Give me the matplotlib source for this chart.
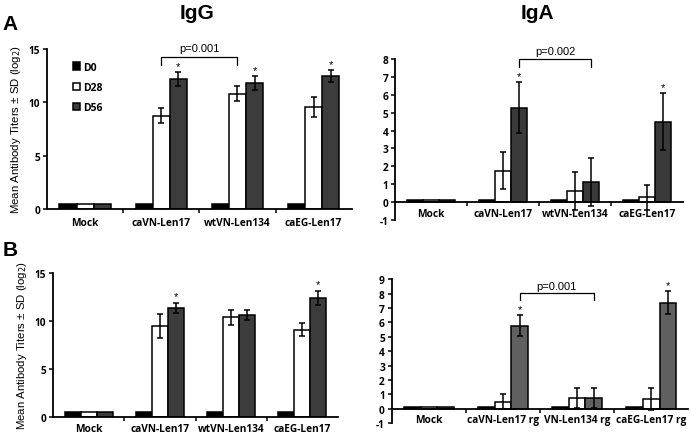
import matplotlib.pyplot as plt
import numpy as np

# categories
groups = ['Mock', 'caVN-Len17', 'wtVN-Len134', 'caEG-Len17']
groups_rg = ['Mock', 'caVN-Len17 rg', 'VN-Len134 rg', 'caEG-Len17 rg']
days = ['D0', 'D28', 'D56']

# A - IgG
igg_a_d0 = [0.5, 0.5, 0.5, 0.5]
igg_a_d28 = [0.5, 8.75, 10.8, 9.6]
igg_a_d28_sd = [0, 0.7, 0.7, 0.93]
igg_a_d56 = [0.5, 12.2, 11.8, 12.45]
igg_a_d56_sd = [0, 0.65, 0.65, 0.55]

# A - IgA
iga_a_d0 = [0.1, 0.1, 0.1, 0.1]
iga_a_d28 = [0.1, 1.75, 0.62, 0.27]
iga_a_d28_sd = [0, 1.04, 1.05, 0.71]
iga_a_d56 = [0.1, 5.27, 1.13, 4.5]
iga_a_d56_sd = [0, 1.42, 1.35, 1.6]

# B - IgG
igg_b_d0 = [0.5, 0.5, 0.5, 0.5]
igg_b_d28 = [0.5, 9.5, 10.4, 9.1]
igg_b_d28_sd = [0, 1.25, 0.8, 0.7]
igg_b_d56 = [0.5, 11.4, 10.65, 12.4]
igg_b_d56_sd = [0, 0.52, 0.52, 0.76]

# B - IgA
iga_b_d0 = [0.1, 0.1, 0.1, 0.1]
iga_b_d28 = [0.1, 0.5, 0.75, 0.65]
iga_b_d28_sd = [0, 0.53, 0.72, 0.76]
iga_b_d56 = [0.1, 5.77, 0.75, 7.35]
iga_b_d56_sd = [0, 0.72, 0.72, 0.8]

tick_font = dict(family='Open Sans', weight='bold', size=7.3)
w = 0.225

fig = plt.figure(figsize=(6.91, 4.35), dpi=100)


def draw(rect, labels, d0, d28, d28sd, d56, d56sd, ylim, yticks, grey, stars, pad):
    ax = fig.add_axes(rect)
    for s in ['top', 'right']:
        ax.spines[s].set_visible(False)
    for s in ['left', 'bottom']:
        ax.spines[s].set_linewidth(1.3)
    if ylim[0] < 0:
        ax.spines['bottom'].set_position(('data', 0))
    x = np.arange(len(labels))
    ekw = dict(ecolor='black', elinewidth=1.1, capsize=2, capthick=1.1)
    ax.bar(x - w, d0, w, color='black', edgecolor='black', lw=1.1, label=days[0])
    ax.bar(x, d28, w, color='white', edgecolor='black', lw=1.1, label=days[1])
    ax.bar(x + w, d56, w, color=grey, edgecolor='black', lw=1.1, label=days[2])
    for i in range(1, len(labels)):
        ax.errorbar(x[i], d28[i], yerr=d28sd[i], fmt='none', **ekw)
        ax.errorbar(x[i] + w, d56[i], yerr=d56sd[i], fmt='none', **ekw)
    for i in stars:
        ax.annotate('*', (x[i] + w, d56[i] + d56sd[i]), xytext=(0, 1),
                    textcoords='offset points', ha='center', va='bottom',
                    fontsize=8, family='Liberation Sans')
    ax.set_xlim(-0.5, len(labels) - 0.5)
    ax.set_ylim(*ylim)
    ax.set_yticks(yticks)
    ax.set_yticklabels([str(t) for t in yticks], **tick_font)
    ax.set_xticks(x)
    ax.set_xticklabels(labels, **tick_font)
    ax.set_xticks(np.arange(0.5, len(labels) - 1, 1), minor=True)
    ax.tick_params(axis='x', which='major', length=0, pad=pad)
    ax.tick_params(axis='x', which='minor', length=3, width=1.1, direction='out')
    ax.tick_params(axis='y', length=3, width=1.1, direction='out', pad=2)
    return ax


def bracket(ax, x1, x2, top, low, ty, txt):
    ax.plot([x1, x1, x2, x2], [low, top, top, low], color='black', lw=0.9, clip_on=False)
    ax.text((x1 + x2) / 2, ty, txt, ha='center', va='center', fontsize=8,
            family='Liberation Sans')


ax1 = draw([0.068, 0.517, 0.441, 0.368], groups, igg_a_d0, igg_a_d28, igg_a_d28_sd,
           igg_a_d56, igg_a_d56_sd, (0, 15), [0, 5, 10, 15], '#3c3c3c', [1, 2, 3], 6)
ax1.set_ylabel('Mean Antibody Titers ± SD (log$_2$)', fontsize=8.2,
               family='Liberation Sans', labelpad=4)
bracket(ax1, 1, 2, 14.25, 13.5, 15.1, 'p=0.001')
ax1.legend(loc='upper left', bbox_to_anchor=(0.055, 0.98), frameon=False,
           handlelength=0.7, handleheight=0.7, handletextpad=0.3, labelspacing=0.9,
           prop=dict(family='Open Sans', weight='bold', size=7.5))

ax2 = draw([0.572, 0.492, 0.416, 0.37], groups, iga_a_d0, iga_a_d28, iga_a_d28_sd,
           iga_a_d56, iga_a_d56_sd, (-1, 8), list(range(-1, 9)), '#3a3a3a', [1, 3], 4)
bracket(ax2, 1 + w, 2 + w, 8.02, 7.53, 8.47, 'p=0.002')

ax3 = draw([0.077, 0.039, 0.412, 0.331], groups, igg_b_d0, igg_b_d28, igg_b_d28_sd,
           igg_b_d56, igg_b_d56_sd, (0, 15), [0, 5, 10, 15], '#3c3c3c', [1, 3], 4)
ax3.set_ylabel('Mean Antibody Titers ± SD (log$_2$)', fontsize=8.2,
               family='Liberation Sans', labelpad=4)

ax4 = draw([0.567, 0.025, 0.429, 0.331], groups_rg, iga_b_d0, iga_b_d28, iga_b_d28_sd,
           iga_b_d56, iga_b_d56_sd, (-1, 9), list(range(-1, 10)), '#606060', [1, 3], 4)
bracket(ax4, 1 + w, 2 + w, 8.04, 7.55, 8.5, 'p=0.001')

fig.text(0.285, 0.97, 'IgG', ha='center', va='center', fontsize=15, weight='bold',
         family='Liberation Sans')
fig.text(0.778, 0.97, 'IgA', ha='center', va='center', fontsize=15, weight='bold',
         family='Liberation Sans')
fig.text(0.015, 0.943, 'A', ha='center', va='center', fontsize=15, weight='bold',
         family='Liberation Sans')
fig.text(0.015, 0.425, 'B', ha='center', va='center', fontsize=15, weight='bold',
         family='Liberation Sans')

fig.savefig('out.png', dpi=100)
